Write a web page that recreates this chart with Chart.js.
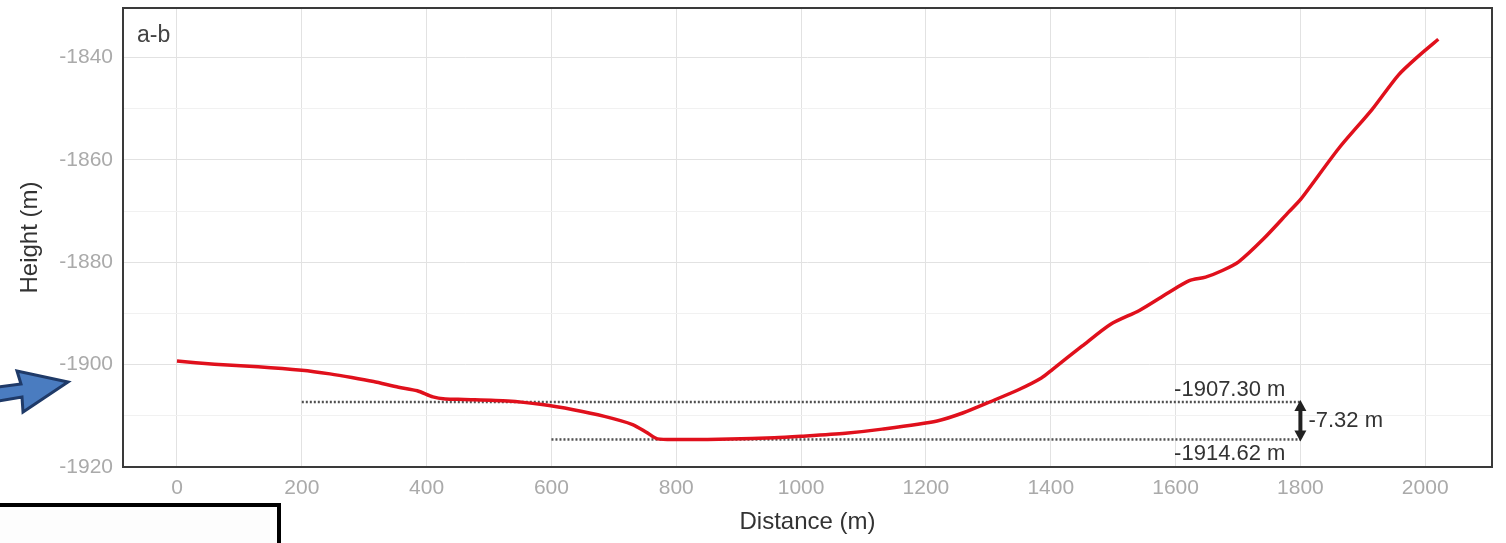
<!DOCTYPE html>
<html>
<head>
<meta charset="utf-8">
<script src="https://cdn.jsdelivr.net/npm/chart.js@4.4.1/dist/chart.umd.min.js"></script>
<style>
  html, body { margin: 0; padding: 0; background: #ffffff; }
  #wrap { width: 1506px; height: 543px; position: relative; }
</style>
</head>
<body>
<div id="wrap"><canvas id="c" width="1506" height="543"></canvas></div>
<script>
// ---- data ----
const distance = [0, 60, 130, 200, 245, 280, 315, 355, 385, 410, 430, 460, 530, 585, 635, 685, 730, 752, 770, 814, 886, 957, 1000, 1071, 1130, 1218, 1260, 1304, 1350, 1385, 1403, 1450, 1496, 1542, 1589, 1622, 1648, 1675, 1701, 1741, 1781, 1801, 1861, 1915, 1957, 1990, 2021];
const height = [-1899.3, -1899.9, -1900.4, -1901.1, -1901.8, -1902.5, -1903.3, -1904.4, -1905.1, -1906.3, -1906.7, -1906.8, -1907.1, -1907.8, -1908.8, -1910.1, -1911.7, -1913.2, -1914.5, -1914.62, -1914.55, -1914.3, -1914.0, -1913.4, -1912.6, -1911.0, -1909.4, -1907.2, -1904.8, -1902.6, -1900.9, -1896.4, -1892.1, -1889.4, -1885.9, -1883.6, -1882.9, -1881.6, -1879.9, -1875.4, -1870.2, -1867.6, -1857.8, -1850.1, -1843.4, -1839.6, -1836.4];
const xTickValues = [0, 200, 400, 600, 800, 1000, 1200, 1400, 1600, 1800, 2000];
const yTickValues = [-1920, -1910, -1900, -1890, -1880, -1870, -1860, -1850, -1840];
const yLabelValues = [-1920, -1900, -1880, -1860, -1840];
const upperLevel = -1907.30;
const lowerLevel = -1914.62;
const upperStart = 200;
const lowerStart = 600;
const levelEnd = 1800;
const upperLabel = "-1907.30 m";
const lowerLabel = "-1914.62 m";
const diffLabel = "-7.32 m";
const panelLabel = "a-b";
const xTitle = "Distance (m)";
const yTitle = "Height (m)";

const profile = distance.map((d, i) => ({ x: d, y: height[i] }));
const upperLine = [{ x: upperStart, y: upperLevel }, { x: levelEnd, y: upperLevel }];
const lowerLine = [{ x: lowerStart, y: lowerLevel }, { x: levelEnd, y: lowerLevel }];

const FONT = "'Liberation Sans', Arial, sans-serif";

const decor = {
  id: 'decor',
  beforeDraw(chart) {
    const ctx = chart.ctx;
    ctx.save();
    ctx.fillStyle = '#ffffff';
    ctx.fillRect(0, 0, chart.width, chart.height);
    ctx.restore();
  },
  afterDraw(chart) {
    const ctx = chart.ctx;
    const a = chart.chartArea;
    const xs = chart.scales.x, ys = chart.scales.y;
    ctx.save();
    // panel border
    ctx.strokeStyle = '#3a3a3a';
    ctx.lineWidth = 2;
    ctx.strokeRect(a.left, a.top, a.right - a.left, a.bottom - a.top);
    // panel label
    ctx.fillStyle = '#444444';
    ctx.font = '23px ' + FONT;
    ctx.textAlign = 'left';
    ctx.textBaseline = 'middle';
    ctx.fillText(panelLabel, a.left + 14, a.top + 28);
    // level annotations
    const xe = xs.getPixelForValue(levelEnd);
    const yu = ys.getPixelForValue(upperLevel);
    const yl = ys.getPixelForValue(lowerLevel);
    ctx.fillStyle = '#333333';
    ctx.font = '22px ' + FONT;
    ctx.textAlign = 'right';
    ctx.fillText(upperLabel, xe - 15, yu - 12);
    ctx.fillText(lowerLabel, xe - 15, yl + 14);
    ctx.textAlign = 'left';
    ctx.fillText(diffLabel, xe + 8, (yu + yl) / 2);
    // double arrow
    ctx.strokeStyle = '#222222';
    ctx.fillStyle = '#222222';
    ctx.lineWidth = 4;
    ctx.beginPath();
    ctx.moveTo(xe, yu + 7);
    ctx.lineTo(xe, yl - 7);
    ctx.stroke();
    ctx.beginPath();
    ctx.moveTo(xe, yu - 2); ctx.lineTo(xe - 6, yu + 9); ctx.lineTo(xe + 6, yu + 9); ctx.closePath();
    ctx.fill();
    ctx.beginPath();
    ctx.moveTo(xe, yl + 2); ctx.lineTo(xe - 6, yl - 9); ctx.lineTo(xe + 6, yl - 9); ctx.closePath();
    ctx.fill();
    // blue block arrow (outside the plot)
    ctx.beginPath();
    ctx.moveTo(-2, 387);
    ctx.lineTo(21, 384);
    ctx.lineTo(17, 371);
    ctx.lineTo(68, 382);
    ctx.lineTo(23, 412);
    ctx.lineTo(22, 397);
    ctx.lineTo(-2, 401);
    ctx.closePath();
    ctx.fillStyle = '#4a7cc0';
    ctx.fill();
    ctx.strokeStyle = '#1f3a68';
    ctx.lineWidth = 3;
    ctx.lineJoin = 'miter';
    ctx.stroke();
    // box at bottom-left
    ctx.fillStyle = '#fdfdfd';
    ctx.fillRect(-5, 505, 284, 50);
    ctx.strokeStyle = '#000000';
    ctx.lineWidth = 4;
    ctx.strokeRect(-5, 505, 284, 50);
    ctx.restore();
  }
};

new Chart(document.getElementById('c'), {
  type: 'line',
  data: {
    datasets: [
      { data: profile, borderColor: '#e0101c', borderWidth: 3.5, pointRadius: 0, tension: 0.25, fill: false },
      { data: upperLine, borderColor: '#505050', borderWidth: 2.5, borderDash: [2, 2], pointRadius: 0, fill: false },
      { data: lowerLine, borderColor: '#505050', borderWidth: 2.5, borderDash: [2, 2], pointRadius: 0, fill: false }
    ]
  },
  options: {
    responsive: false,
    animation: false,
    events: [],
    layout: { padding: { left: 0, right: 14, top: 8, bottom: 0 } },
    plugins: { legend: { display: false }, tooltip: { enabled: false } },
    scales: {
      x: {
        type: 'linear',
        min: -86.5,
        max: 2107,
        afterBuildTicks(s) { s.ticks = xTickValues.map(v => ({ value: v })); },
        afterFit(s) { s.height = 76; s.paddingLeft = 0; s.paddingRight = 0; },
        border: { display: false },
        grid: { color: '#e2e2e2', lineWidth: 1, drawTicks: false },
        ticks: { color: '#aaaaaa', padding: 9, maxRotation: 0, autoSkip: false,
                 font: { family: FONT, size: 21 },
                 callback: (v) => String(v) },
        title: { display: true, text: xTitle, color: '#333333', font: { family: FONT, size: 24 }, padding: { top: 0, bottom: 6 } }
      },
      y: {
        type: 'linear',
        min: -1920,
        max: -1830.3,
        afterBuildTicks(s) { s.ticks = yTickValues.map(v => ({ value: v })); },
        afterFit(s) { s.width = 123; s.paddingTop = 0; s.paddingBottom = 0; },
        border: { display: false },
        grid: {
          drawTicks: false,
          lineWidth: 1,
          color: (c) => (c.tick && yLabelValues.includes(c.tick.value)) ? '#e2e2e2' : '#f1f1f1'
        },
        ticks: {
          color: '#aaaaaa', padding: 10, autoSkip: false,
          font: { family: FONT, size: 21 },
          callback: (v) => yLabelValues.includes(v) ? String(v) : ''
        },
        title: { display: true, text: yTitle, color: '#333333', font: { family: FONT, size: 24 }, padding: { top: 16, bottom: 0 } }
      }
    }
  },
  plugins: [decor]
});
</script>
</body>
</html>
